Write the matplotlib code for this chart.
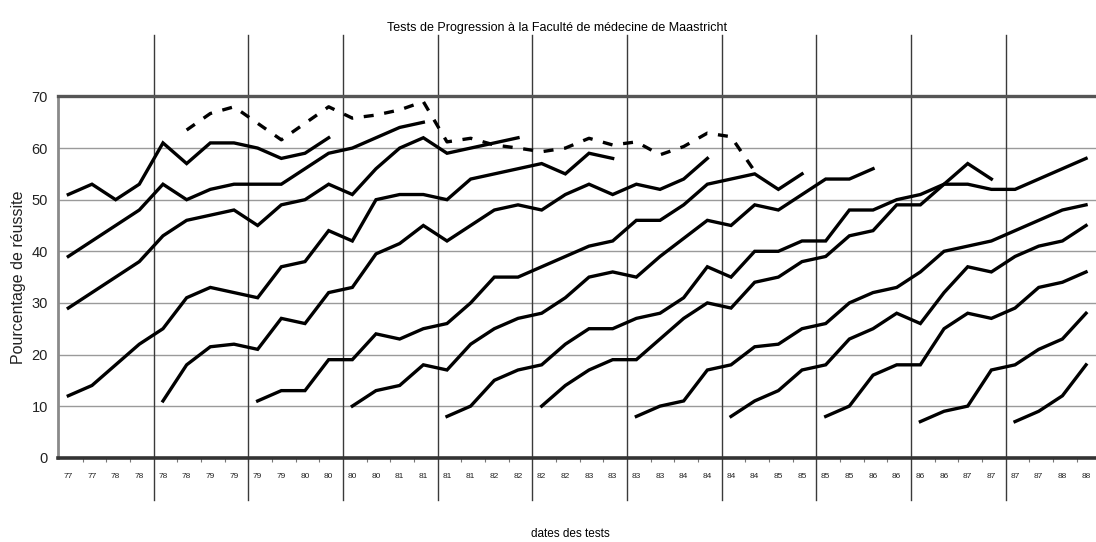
import numpy as np
import matplotlib.pyplot as plt

plt.rcParams['font.family'] = ['Liberation Sans', 'DejaVu Sans']

# test dates (category axis)
dates = ["77", "77", "78", "78", "78", "78", "79", "79", "79", "79", "80", "80",
         "80", "80", "81", "81", "81", "81", "82", "82", "82", "82", "83", "83",
         "83", "83", "84", "84", "84", "84", "85", "85", "85", "85", "86", "86",
         "86", "86", "87", "87", "87", "87", "88", "88"]

# one list per cohort, with the index of the first test it took
start_a = 0
cohort_a = [51, 53, 50, 53, 61, 57, 61, 61, 60, 58, 59, 62]
start_b = 0
cohort_b = [39, 42, 45, 48, 53, 50, 52, 53, 53, 53, 56, 59, 60, 62, 64, 65]
start_c = 0
cohort_c = [29, 32, 35, 38, 43, 46, 47, 48, 45, 49, 50, 53, 51, 56, 60, 62, 59, 60, 61, 62]
start_d = 0
cohort_d = [12, 14, 18, 22, 25, 31, 33, 32, 31, 37, 38, 44, 42, 50, 51, 51, 50, 54,
            55, 56, 57, 55, 59, 58]
start_e = 4
cohort_e = [11, 18, 21.5, 22, 21, 27, 26, 32, 33, 39.5, 41.5, 45, 42, 45, 48, 49, 48,
            51, 53, 51, 53, 52, 54, 58]
start_f = 8
cohort_f = [11, 13, 13, 19, 19, 24, 23, 25, 26, 30, 35, 35, 37, 39, 41, 42, 46, 46,
            49, 53, 54, 55, 52, 55]
start_g = 12
cohort_g = [10, 13, 14, 18, 17, 22, 25, 27, 28, 31, 35, 36, 35, 39, 42.5, 46, 45, 49,
            48, 51, 54, 54, 56]
start_h = 16
cohort_h = [8, 10, 15, 17, 18, 22, 25, 25, 27, 28, 31, 37, 35, 40, 40, 42, 42, 48,
            48, 50, 51, 53, 57, 54]
start_i = 20
cohort_i = [10, 14, 17, 19, 19, 23, 27, 30, 29, 34, 35, 38, 39, 43, 44, 49, 49, 53,
            53, 52, 52, 54, 56, 58]
start_j = 24
cohort_j = [8, 10, 11, 17, 18, 21.5, 22, 25, 26, 30, 32, 33, 36, 40, 41, 42, 44, 46, 48, 49]
start_k = 28
cohort_k = [8, 11, 13, 17, 18, 23, 25, 28, 26, 32, 37, 36, 39, 41, 42, 45]
start_l = 32
cohort_l = [8, 10, 16, 18, 18, 25, 28, 27, 29, 33, 34, 36]
start_m = 36
cohort_m = [7, 9, 10, 17, 18, 21, 23, 28]
start_n = 40
cohort_n = [7, 9, 12, 18]

# dashed series
start_dash = 5
dashed = [63.5, 66.7, 68, 64.8, 61.6, 64.8, 68, 65.8, 66.4, 67.4, 69, 61.2, 61.9,
          60.6, 60, 59.3, 60, 61.9, 60.6, 61.2, 58.7, 60.3, 62.9, 62.2, 55.5]

cohorts = [(start_a, cohort_a), (start_b, cohort_b), (start_c, cohort_c),
           (start_d, cohort_d), (start_e, cohort_e), (start_f, cohort_f),
           (start_g, cohort_g), (start_h, cohort_h), (start_i, cohort_i),
           (start_j, cohort_j), (start_k, cohort_k), (start_l, cohort_l),
           (start_m, cohort_m), (start_n, cohort_n)]

fig = plt.figure(figsize=(10.96, 5.42), dpi=100)
ax = fig.add_axes([0.0526, 0.1555, 0.9474, 0.6665])

# horizontal grid
for v in range(10, 70, 10):
    ax.axhline(v, color='#9a9a9a', lw=1.0, zorder=1)

# group separators, running above and below the plot
for k in range(10):
    ax.plot([3.6 + 4 * k] * 2, [-0.117, 1.17], color='#3a3a3a', lw=1.0,
            transform=ax.get_xaxis_transform(), clip_on=False, zorder=2)

for st, vals in cohorts:
    ax.plot(np.arange(st, st + len(vals)), vals, color='black', lw=2.4,
            solid_joinstyle='miter', zorder=3)

ax.plot(np.arange(start_dash, start_dash + len(dashed)), dashed, color='black',
        lw=2.4, linestyle=(0, (3, 3.2)), zorder=3)

ax.set_xlim(-0.45, 43.42)
ax.set_ylim(0, 70)
ax.set_yticks(range(0, 80, 10))
ax.set_xticks(range(len(dates)))
ax.set_xticklabels(dates, fontsize=6, color='#222222')
ax.set_xticks([i + 0.6 for i in range(43) if (i + 0.6 - 3.6) % 4 != 0], minor=True)
ax.tick_params(axis='x', which='major', length=0, pad=11)
ax.tick_params(axis='x', which='minor', length=3, color='#777777', width=0.8)
ax.tick_params(axis='y', length=0, pad=7, labelsize=10.5, labelcolor='#222222')

ax.spines['right'].set_visible(False)
ax.spines['top'].set_color('#555555')
ax.spines['top'].set_linewidth(2.4)
ax.spines['left'].set_color('#8a8a8a')
ax.spines['left'].set_linewidth(2.0)
ax.spines['bottom'].set_color('#333333')
ax.spines['bottom'].set_linewidth(2.6)

ax.set_ylabel("Pourcentage de réussite", fontsize=11.5, color='#222222', labelpad=4)

fig.text(0.508, 0.948, "Tests de Progression à la Faculté de médecine de Maastricht",
         ha='center', va='center', fontsize=9, color='black')
fig.text(0.52, 0.003, "dates des tests", ha='center', va='bottom', fontsize=8.5,
         color='black')

fig.savefig('out.png', dpi=100)
